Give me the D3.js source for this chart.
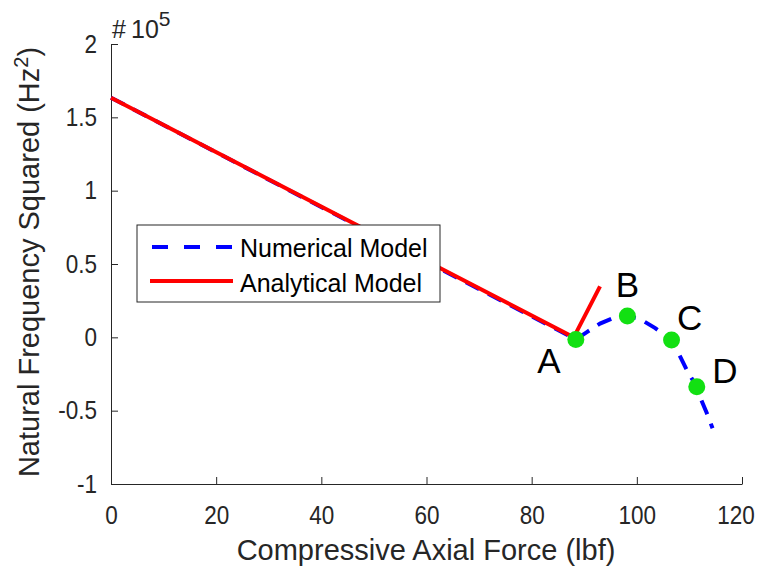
<!DOCTYPE html>
<meta charset="utf-8">
<style>
body {
  margin: 0;
  background: #fff;
  font-family: "Liberation Sans", Arial, Helvetica, sans-serif;
}
.axis path, .axis line {
  stroke: #262626;
  stroke-width: 1;
}
.axis text {
  fill: #262626;
  font-size: 25px;
  font-family: "Liberation Sans", Arial, Helvetica, sans-serif;
}
</style>
<body>
<script src="https://cdn.jsdelivr.net/npm/d3@7"></script>
<script>

// compressive force (lbf) vs natural frequency squared (Hz^2)
var numForce = [0, 88.4, 90.5, 93.0, 95.5, 98.2, 100.6, 103.5, 106.6, 108.2, 109.7, 111.4, 112.0, 113.3, 114.4];
var numFreq2 = [163400, -1400, 3600, 9400, 13200, 14500, 12500, 6300, -1800, -12800, -23700, -33700, -40500, -51600, -62000];

var anaForce = [0, 88.0, 93.0];
var anaFreq2 = [163400, 0, 34800];

var pointNames = ["A", "B", "C", "D"];
var pointForce = [88.4, 98.2, 106.6, 111.4];
var pointFreq2 = [-1400, 14500, -1800, -33700];

var xTicks = [0, 20, 40, 60, 80, 100, 120];
var yTicks = [-100000, -50000, 0, 50000, 100000, 150000, 200000];
var yTickLabels = ["-1", "-0.5", "0", "0.5", "1", "1.5", "2"];

var seriesNames = ["Numerical Model", "Analytical Model"];

var width = 759,
    height = 569;

var svg = d3.select("body").append("svg")
    .attr("width", width)
    .attr("height", height);

var x = d3.scaleLinear().domain([0, 120]).range([111, 742]);
var y = d3.scaleLinear().domain([-100000, 200000]).range([484, 44]);

// axes, ticks pointing inward
var xAxis = d3.axisBottom(x)
    .tickValues(xTicks)
    .tickSize(-7)
    .tickSizeOuter(0)
    .tickPadding(22)
    .tickFormat(function(d) { return String(d); });

var yAxis = d3.axisLeft(y)
    .tickValues(yTicks)
    .tickSize(-7)
    .tickSizeOuter(0)
    .tickPadding(15.5)
    .tickFormat(function(d, i) { return yTickLabels[i]; });

var gx = svg.append("g")
    .attr("class", "axis")
    .attr("transform", "translate(0,484)")
    .call(xAxis);
gx.selectAll("text")
    .attr("transform", "scale(0.9,1)");
// last label kept inside the figure
gx.selectAll(".tick:last-of-type text")
    .attr("text-anchor", "end")
    .attr("x", 13.7);

svg.append("g")
    .attr("class", "axis")
    .attr("transform", "translate(111,0)")
    .call(yAxis)
  .selectAll("text")
    .attr("transform", "scale(0.9,1)");

svg.selectAll(".axis .domain").attr("fill", "none");

// exponent note
var expo = svg.append("text")
    .attr("x", 112)
    .attr("y", 38)
    .attr("fill", "#262626")
    .style("font-size", "25px")
    .text("#");
expo.append("tspan")
    .attr("x", 131)
    .text("10");
expo.append("tspan")
    .attr("dy", -12)
    .style("font-size", "21px")
    .text("5");

// axis labels
svg.append("text")
    .attr("x", 426)
    .attr("y", 560)
    .attr("text-anchor", "middle")
    .attr("fill", "#262626")
    .style("font-size", "29px")
    .text("Compressive Axial Force (lbf)");

var ylab = svg.append("text")
    .attr("transform", "translate(39,262) rotate(-90)")
    .attr("text-anchor", "middle")
    .attr("fill", "#262626")
    .style("font-size", "29px")
    .text("Natural Frequency Squared (Hz");
ylab.append("tspan")
    .attr("dy", -11)
    .style("font-size", "20px")
    .text("2");
ylab.append("tspan")
    .attr("dy", 11)
    .text(")");

var line = d3.line()
    .x(function(d) { return x(d[0]); })
    .y(function(d) { return y(d[1]); });

var numData = numForce.map(function(f, i) { return [f, numFreq2[i]]; });
var anaData = anaForce.map(function(f, i) { return [f, anaFreq2[i]]; });

svg.append("path")
    .datum(numData)
    .attr("d", line)
    .attr("fill", "none")
    .attr("stroke", "#0000ff")
    .attr("stroke-width", 4)
    .attr("stroke-dasharray", "15,10");

svg.append("path")
    .datum(anaData)
    .attr("d", line)
    .attr("fill", "none")
    .attr("stroke", "#ff0000")
    .attr("stroke-width", 4);

// marked points
var pts = pointNames.map(function(n, i) {
  return {name: n, f: pointForce[i], v: pointFreq2[i]};
});

svg.selectAll(".pt")
    .data(pts)
  .enter().append("circle")
    .attr("class", "pt")
    .attr("cx", function(d) { return x(d.f); })
    .attr("cy", function(d) { return y(d.v); })
    .attr("r", 8.5)
    .attr("fill", "#12e012");

// label offsets from each marked point
var offX = {A: -27, B: 0, C: 18, D: 28},
    offY = {A: 34, B: -19, C: -10, D: -4};

svg.selectAll(".ptlabel")
    .data(pts)
  .enter().append("text")
    .attr("class", "ptlabel")
    .attr("x", function(d) { return x(d.f) + offX[d.name]; })
    .attr("y", function(d) { return y(d.v) + offY[d.name]; })
    .attr("text-anchor", "middle")
    .attr("fill", "#000")
    .style("font-size", "35px")
    .text(function(d) { return d.name; });

// legend
var legend = svg.append("g");

legend.append("rect")
    .attr("x", 137)
    .attr("y", 225)
    .attr("width", 303)
    .attr("height", 77)
    .attr("fill", "#fff")
    .attr("stroke", "#262626")
    .attr("stroke-width", 1);

legend.append("line")
    .attr("x1", 152).attr("x2", 232)
    .attr("y1", 247).attr("y2", 247)
    .attr("stroke", "#0000ff")
    .attr("stroke-width", 4)
    .attr("stroke-dasharray", "16,16");

legend.append("line")
    .attr("x1", 150).attr("x2", 233)
    .attr("y1", 281).attr("y2", 281)
    .attr("stroke", "#ff0000")
    .attr("stroke-width", 4);

legend.selectAll(".legtext")
    .data(seriesNames)
  .enter().append("text")
    .attr("class", "legtext")
    .attr("x", 240)
    .attr("y", function(d, i) { return 257 + i * 34.5; })
    .attr("fill", "#000")
    .style("font-size", "25px")
    .text(function(d) { return d; });

</script>
